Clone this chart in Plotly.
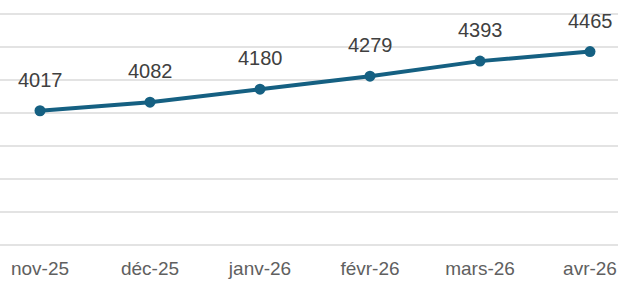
import plotly.graph_objects as go

months = ["nov-25", "déc-25", "janv-26", "févr-26", "mars-26", "avr-26"]
values = [4017, 4082, 4180, 4279, 4393, 4465]
grid_ticks = [3000, 3250, 3500, 3750, 4000, 4250, 4500, 4750]

line_color = "#156082"

fig = go.Figure()
fig.add_trace(go.Scatter(
    x=list(range(len(months))), y=values, mode="lines+markers",
    line=dict(color=line_color, width=4),
    marker=dict(color=line_color, size=11),
    hoverinfo="skip", showlegend=False, cliponaxis=False,
))

for i, v in enumerate(values):
    fig.add_annotation(x=i, y=v, text=str(v), showarrow=False, yshift=31,
                       font=dict(family="Liberation Sans, Arial", size=20, color="#404040"))

fig.update_layout(
    width=618, height=281,
    margin=dict(l=0, r=0, t=0, b=30, pad=0),
    paper_bgcolor="white", plot_bgcolor="white",
    xaxis=dict(
        range=[-40/110, 578/110], automargin=False,
        tickmode="array", tickvals=list(range(len(months))), ticktext=months,
        showgrid=False, zeroline=False, showline=False, ticks="",
        ticklabelstandoff=4,
        tickfont=dict(family="Liberation Sans, Arial", size=19, color="#606060"),
    ),
    yaxis=dict(
        range=[4856 - 251 / 0.132, 4856], automargin=False,
        tickmode="array", tickvals=grid_ticks, showticklabels=False,
        showgrid=True, gridcolor="#e3e3e3", gridwidth=2, zeroline=False, showline=False,
    ),
)

fig.write_html(
    "out.html",
    config={"displayModeBar": False},
    post_script="document.body.style.margin='0';document.body.style.overflow='hidden';",
)
